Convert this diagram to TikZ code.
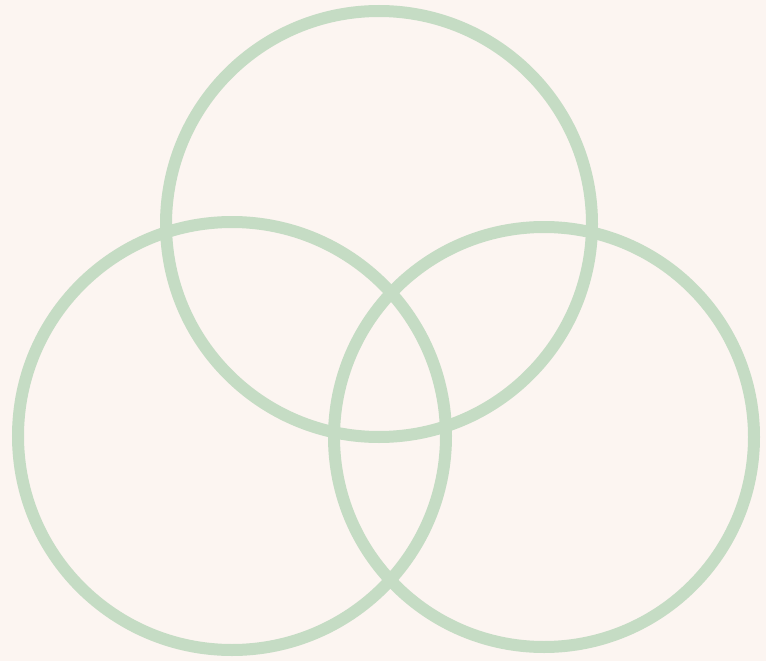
\documentclass[tikz,border=0pt]{standalone}
\definecolor{bgc}{RGB}{252,245,241}
\definecolor{ringc}{RGB}{197,220,196}
\begin{document}
\begin{tikzpicture}[x=1pt,y=-1pt,ring/.style={draw=ringc,line width=12pt}]
\fill[bgc] (0,0) rectangle (766,661);
\useasboundingbox (0,0) rectangle (766,661);
\node[ring,circle,minimum size=426pt,inner sep=0pt] (top) at (379,224) {};
\node[ring,circle,minimum size=428pt,inner sep=0pt] (left) at (232,436) {};
\node[ring,circle,minimum size=420pt,inner sep=0pt] (right) at (544,437) {};
\end{tikzpicture}
\end{document}
